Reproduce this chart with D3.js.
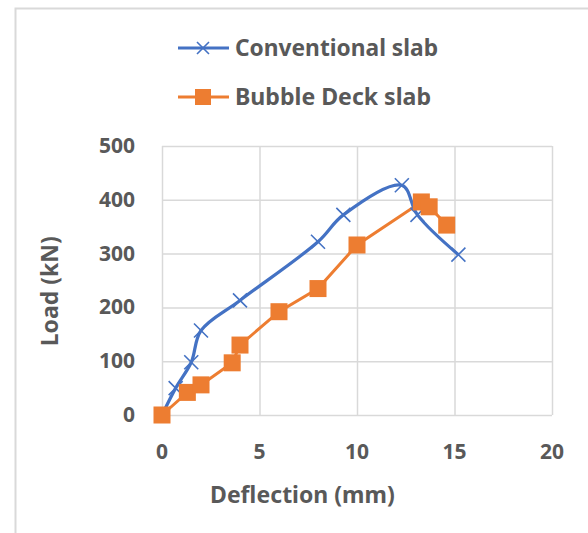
<!DOCTYPE html>
<html>
<head>
<meta charset="utf-8">
<title>Load vs Deflection</title>
<style>
  body { margin: 0; background: #fff; }
  text { font-family: "Noto Sans", "Open Sans", sans-serif; font-weight: bold; fill: #595959; }
</style>
</head>
<body>
<svg width="588" height="533"></svg>
<script src="https://d3js.org/d3.v7.min.js"></script>
<script>
  // data
  const convDeflection = [0, 0.7, 1.5, 2, 4, 8, 9.3, 12.3, 13.1, 15.2];
  const convLoad       = [0, 50, 98, 157, 213, 322, 372, 427, 372, 298];
  const bubbleDeflection = [0, 1.3, 2, 3.6, 4, 6, 8, 10, 13.3, 13.7, 14.6];
  const bubbleLoad       = [0, 42, 56, 97, 130, 192, 235, 316, 396, 387, 353];
  const seriesNames = ['Conventional slab', 'Bubble Deck slab'];
  const xTicks = [0, 5, 10, 15, 20];
  const yTicks = [0, 100, 200, 300, 400, 500];

  const blue = '#4472c4', orange = '#ed7d31', grid = '#d9d9d9';

  const svg = d3.select('svg');
  const margin = { top: 146, left: 162, right: 36, bottom: 118 };
  const width = +svg.attr('width'), height = +svg.attr('height');

  // outer frame (only top and left edges visible)
  svg.append('path')
    .attr('d', `M15.5,533 V8.5 H588`)
    .attr('fill', 'none').attr('stroke', grid).attr('stroke-width', 2);

  // scales in page coordinates
  const x = d3.scaleLinear().domain([0, 20]).range([margin.left, width - margin.right]);
  const y = d3.scaleLinear().domain([0, 500]).range([height - margin.bottom, margin.top]);

  // gridlines
  svg.append('g').attr('transform', `translate(0,${y(0)})`)
    .call(d3.axisBottom(x).tickValues(xTicks).tickSize(y(500) - y(0)).tickFormat(''))
    .call(a => a.select('.domain').remove())
    .call(a => a.selectAll('text').remove())
    .call(a => a.selectAll('line').attr('stroke', grid).attr('stroke-width', 1.5));
  svg.append('g').attr('transform', `translate(${x(0)},0)`)
    .call(d3.axisLeft(y).tickValues(yTicks).tickSize(x(0) - x(20)).tickFormat(''))
    .call(a => a.select('.domain').remove())
    .call(a => a.selectAll('text').remove())
    .call(a => a.selectAll('line').attr('stroke', grid).attr('stroke-width', 1.5));

  // tick labels
  svg.selectAll('.xt').data(xTicks).enter().append('text')
    .attr('class', 'xt')
    .attr('x', d => x(d)).attr('y', y(0) + 44)
    .attr('text-anchor', 'middle').style('font-size', '21px')
    .text(d => d);
  svg.selectAll('.yt').data(yTicks).enter().append('text')
    .attr('class', 'yt')
    .attr('x', x(0) - 27).attr('y', d => y(d) + 7)
    .attr('text-anchor', 'end').style('font-size', '21px')
    .text(d => d);

  // axis titles
  svg.append('text')
    .attr('x', x(7.2)).attr('y', 503)
    .attr('text-anchor', 'middle').style('font-size', '23px')
    .text('Deflection (mm)');
  const ly = y(230);
  svg.append('text')
    .attr('x', 58).attr('y', ly)
    .attr('transform', `rotate(-90,58,${ly})`)
    .attr('text-anchor', 'middle').style('font-size', '23px')
    .text('Load (kN)');

  const conv = convDeflection.map((d, i) => [d, convLoad[i]]);
  const bubble = bubbleDeflection.map((d, i) => [d, bubbleLoad[i]]);

  const line = d3.line().x(d => x(d[0])).y(d => y(d[1]));

  // bubble deck series
  svg.append('path').datum(bubble)
    .attr('d', line)
    .attr('fill', 'none').attr('stroke', orange).attr('stroke-width', 3);

  // conventional series (smoothed like Excel)
  svg.append('path').datum(conv)
    .attr('d', line.curve(d3.curveCatmullRom.alpha(0.5)))
    .attr('fill', 'none').attr('stroke', blue).attr('stroke-width', 3.2);

  const crossPath = s => `M${-s},${-s}L${s},${s}M${-s},${s}L${s},${-s}`;

  svg.selectAll('.cross').data(conv).enter().append('path')
    .attr('class', 'cross')
    .attr('transform', d => `translate(${x(d[0])},${y(d[1])})`)
    .attr('d', crossPath(7))
    .attr('stroke', blue).attr('stroke-width', 1.6).attr('fill', 'none');

  const sq = 17;
  svg.selectAll('.sq').data(bubble).enter().append('rect')
    .attr('class', 'sq')
    .attr('x', d => x(d[0]) - sq / 2).attr('y', d => y(d[1]) - sq / 2)
    .attr('width', sq).attr('height', sq)
    .attr('fill', orange);

  // legend
  const legend = svg.append('g');
  const legendY = [48, 97];
  legend.append('line').attr('x1', 178).attr('x2', 229).attr('y1', legendY[0]).attr('y2', legendY[0])
    .attr('stroke', blue).attr('stroke-width', 3);
  legend.append('path').attr('transform', `translate(203,${legendY[0]})`)
    .attr('d', crossPath(6)).attr('stroke', blue).attr('stroke-width', 1.6);
  legend.append('line').attr('x1', 178).attr('x2', 229).attr('y1', legendY[1]).attr('y2', legendY[1])
    .attr('stroke', orange).attr('stroke-width', 3);
  legend.append('rect').attr('x', 203 - 8).attr('y', legendY[1] - 8).attr('width', 16).attr('height', 16)
    .attr('fill', orange);
  legend.selectAll('.lt').data(seriesNames).enter().append('text')
    .attr('class', 'lt')
    .attr('x', 235).attr('y', (d, i) => legendY[i] + 8)
    .style('font-size', '24px')
    .attr('textLength', (d, i) => i === 0 ? 203 : 196)
    .attr('lengthAdjust', 'spacingAndGlyphs')
    .text(d => d);
</script>
</body>
</html>
